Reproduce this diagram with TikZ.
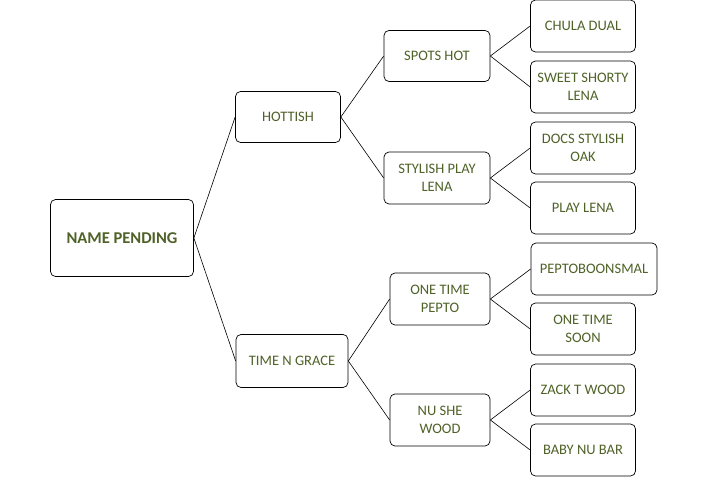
\documentclass[tikz,border=0pt]{standalone}
\usepackage{fontspec}
\setmainfont{Carlito}
\definecolor{tg}{HTML}{4F6228}
\begin{document}
\begin{tikzpicture}[x=1pt,y=-1pt,
 box/.style={draw=black,line width=0.7pt,rounded corners=5pt,fill=white,text=tg,align=center,font=\fontsize{14.5}{17.5}\selectfont,inner sep=1pt},
 ln/.style={line width=0.6pt}]
\useasboundingbox (0,0) rectangle (708,478);
\node[box,minimum width=143,minimum height=77,font=\fontsize{16.5}{19}\selectfont\bfseries] (np) at (122,238) {NAME PENDING};
\node[box,minimum width=105,minimum height=51] (h) at (288,117) {HOTTISH};
\node[box,minimum width=112,minimum height=53] (t) at (292,361) {TIME N GRACE};
\node[box,minimum width=106,minimum height=51] (sh) at (437,56) {SPOTS HOT};
\node[box,minimum width=106,minimum height=52] (sp) at (437,178) {STYLISH PLAY\\LENA};
\node[box,minimum width=100,minimum height=52] (ot) at (440,299) {ONE TIME\\PEPTO};
\node[box,minimum width=100,minimum height=52] (nu) at (440,420) {NU SHE\\WOOD};
\node[box,minimum width=105,minimum height=52] (c1) at (583,26) {CHULA DUAL};
\node[box,minimum width=105,minimum height=52] (c2) at (583,87) {SWEET SHORTY\\LENA};
\node[box,minimum width=105,minimum height=52] (c3) at (583,148) {DOCS STYLISH\\OAK};
\node[box,minimum width=105,minimum height=52] (c4) at (583,208) {PLAY LENA};
\node[box,minimum width=126,minimum height=52] (c5) at (594,269) {PEPTOBOONSMAL};
\node[box,minimum width=105,minimum height=52] (c6) at (583,329) {ONE TIME\\SOON};
\node[box,minimum width=105,minimum height=52] (c7) at (583,390) {ZACK T WOOD};
\node[box,minimum width=105,minimum height=52] (c8) at (583,450) {BABY NU BAR};
\foreach \a/\b in {np/h,np/t,h/sh,h/sp,t/ot,t/nu,sh/c1,sh/c2,sp/c3,sp/c4,ot/c5,ot/c6,nu/c7,nu/c8}
  \draw[ln] (\a.east) -- (\b.west);
\end{tikzpicture}
\end{document}
